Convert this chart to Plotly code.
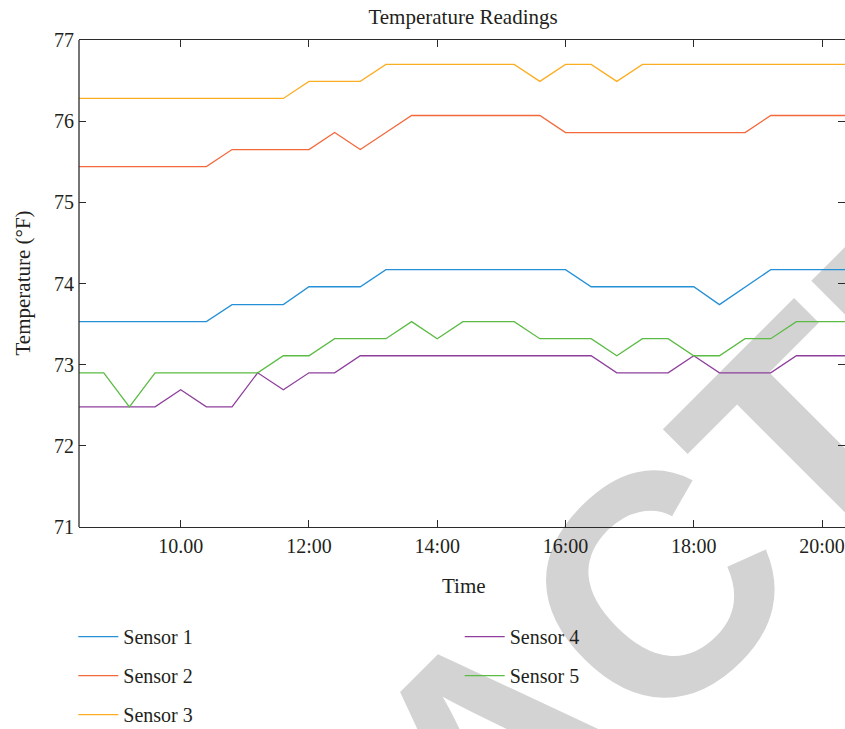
import plotly.graph_objects as go

# Sampling times (24-minute interval)
times = ["08:24", "08:48", "09:12", "09:36", "10:00", "10:24", "10:48", "11:12",
         "11:36", "12:00", "12:24", "12:48", "13:12", "13:36", "14:00", "14:24",
         "14:48", "15:12", "15:36", "16:00", "16:24", "16:48", "17:12", "17:36",
         "18:00", "18:24", "18:48", "19:12", "19:36", "20:00", "20:24"]

sensor_1 = [73.53, 73.53, 73.53, 73.53, 73.53, 73.53, 73.74, 73.74, 73.74, 73.96,
            73.96, 73.96, 74.17, 74.17, 74.17, 74.17, 74.17, 74.17, 74.17, 74.17,
            73.96, 73.96, 73.96, 73.96, 73.96, 73.74, 73.96, 74.17, 74.17, 74.17, 74.17]
sensor_2 = [75.44, 75.44, 75.44, 75.44, 75.44, 75.44, 75.65, 75.65, 75.65, 75.65,
            75.86, 75.65, 75.86, 76.07, 76.07, 76.07, 76.07, 76.07, 76.07, 75.86,
            75.86, 75.86, 75.86, 75.86, 75.86, 75.86, 75.86, 76.07, 76.07, 76.07, 76.07]
sensor_3 = [76.28, 76.28, 76.28, 76.28, 76.28, 76.28, 76.28, 76.28, 76.28, 76.49,
            76.49, 76.49, 76.70, 76.70, 76.70, 76.70, 76.70, 76.70, 76.49, 76.70,
            76.70, 76.49, 76.70, 76.70, 76.70, 76.70, 76.70, 76.70, 76.70, 76.70, 76.70]
sensor_4 = [72.48, 72.48, 72.48, 72.48, 72.69, 72.48, 72.48, 72.90, 72.69, 72.90,
            72.90, 73.11, 73.11, 73.11, 73.11, 73.11, 73.11, 73.11, 73.11, 73.11,
            73.11, 72.90, 72.90, 72.90, 73.11, 72.90, 72.90, 72.90, 73.11, 73.11, 73.11]
sensor_5 = [72.90, 72.90, 72.48, 72.90, 72.90, 72.90, 72.90, 72.90, 73.11, 73.11,
            73.32, 73.32, 73.32, 73.53, 73.32, 73.53, 73.53, 73.53, 73.32, 73.32,
            73.32, 73.11, 73.32, 73.32, 73.11, 73.11, 73.32, 73.32, 73.53, 73.53, 73.53]

series_names = ["Sensor 1", "Sensor 2", "Sensor 3", "Sensor 4", "Sensor 5"]
series_values = [sensor_1, sensor_2, sensor_3, sensor_4, sensor_5]
series_colors = ["#2590d6", "#f4693b", "#fcae23", "#8e3f9c", "#5bbb44"]

tick_times = ["10:00", "12:00", "14:00", "16:00", "18:00", "20:00"]
tick_labels = ["10.00", "12:00", "14:00", "16:00", "18:00", "20:00"]
y_ticks = [71, 72, 73, 74, 75, 76, 77]

day = "2021-03-01 "
x_vals = [day + t for t in times]

SERIF = "Liberation Serif, Times New Roman, serif"
TEXT = "#231f20"
AXIS = "#2b2b2b"

fig = go.Figure()
for i, (name, vals, col) in enumerate(zip(series_names, series_values, series_colors)):
    fig.add_trace(go.Scatter(
        x=x_vals, y=vals, mode="lines", name=name,
        line=dict(color=col, width=1.3),
        legend="legend" if i < 3 else "legend2",
        legendgroup=name,
    ))

fig.update_xaxes(
    type="date",
    range=[day + "08:24:50", day + "20:21:30"],
    tickvals=[day + t for t in tick_times],
    ticktext=tick_labels,
    ticks="inside", ticklen=7, tickwidth=1.2, tickcolor=AXIS,
    showline=True, linecolor=AXIS, linewidth=1.3, mirror="ticks",
    showgrid=False, zeroline=False,
    tickfont=dict(family=SERIF, size=20, color=TEXT),
    ticklabelstandoff=1,
)
# left spine drawn as a shape so that only the tick marks appear on the right side
fig.update_yaxes(
    range=[71, 77],
    tickvals=y_ticks,
    ticks="inside", ticklen=7, tickwidth=1.2, tickcolor=AXIS,
    showline=False, mirror="ticks",
    showgrid=False, zeroline=False,
    tickfont=dict(family=SERIF, size=20, color=TEXT),
    ticklabelstandoff=4,
)
fig.add_shape(type="line", xref="paper", yref="paper", x0=0, x1=0, y0=0, y1=1,
              line=dict(color=AXIS, width=1.3))

legend_common = dict(
    orientation="v", xanchor="left", yanchor="top",
    font=dict(family=SERIF, size=20, color=TEXT),
    bgcolor="rgba(0,0,0,0)", borderwidth=0,
    tracegroupgap=10, itemwidth=40,
)

fig.update_layout(
    width=845, height=729, autosize=False,
    margin=dict(l=79, r=0, t=40, b=202, pad=0, autoexpand=False),
    paper_bgcolor="white", plot_bgcolor="white",
    title=dict(text="Temperature Readings", x=0.548, xanchor="center",
               y=1 - 17 / 729, yanchor="middle",
               font=dict(family=SERIF, size=21, color=TEXT)),
    legend=dict(x=-0.0074, y=-0.185, **legend_common),
    legend2=dict(x=0.497, y=-0.185, **legend_common),
    annotations=[
        dict(text="Temperature (°F)", xref="paper", yref="paper",
             x=-0.0744, y=0.5, xanchor="center", yanchor="middle",
             textangle=-90, showarrow=False,
             font=dict(family=SERIF, size=21, color=TEXT)),
        dict(text="Time", xref="paper", yref="paper",
             x=0.502, y=-0.121, xanchor="center", yanchor="middle",
             showarrow=False,
             font=dict(family=SERIF, size=21, color=TEXT)),
    ],
    showlegend=True,
)

# Diagonal watermark behind the traces
fig.add_shape(
    type="rect", xref="paper", yref="paper",
    x0=0.5107, x1=0.5207, y0=-0.4177, y1=-0.4077,
    line=dict(width=0), fillcolor="rgba(0,0,0,0)", layer="below",
    label=dict(text="RETRACTED", textangle=-45, textposition="middle center",
               font=dict(family="Liberation Sans Narrow, Liberation Sans, Arial",
                         size=315, color="#d3d3d3", weight="bold")),
)

fig.write_html("out.html")
